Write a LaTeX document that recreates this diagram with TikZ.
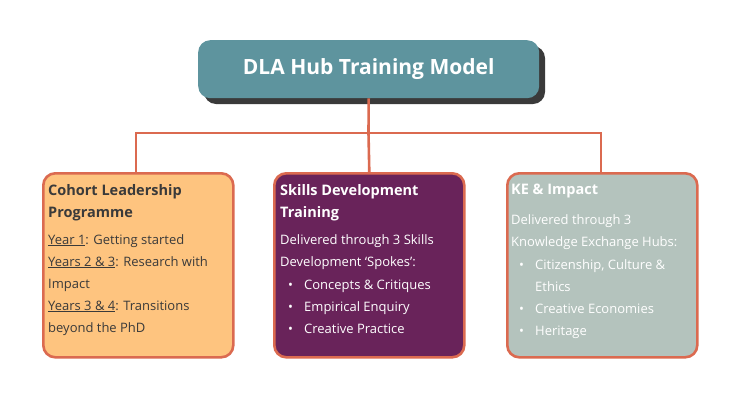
\documentclass[tikz,border=0pt]{standalone}
\usepackage{fontspec}
\setmainfont{Open Sans}
\definecolor{teal}{HTML}{5E949E}
\definecolor{edge}{HTML}{DB6A50}
\definecolor{peach}{HTML}{FEC47F}
\definecolor{plum}{HTML}{69235A}
\definecolor{sage}{HTML}{B4C3BD}
\definecolor{ink}{HTML}{3A3A3A}
\begin{document}
\begin{tikzpicture}[x=1pt,y=-1pt,
  panel/.style={draw=edge,line width=2.6pt,rounded corners=12pt,minimum width=190pt,minimum height=184pt,anchor=north west},
  txt/.style={anchor=north west,align=left,inner sep=0pt,font=\fontsize{13}{22}\selectfont},
  head/.style={anchor=north west,align=left,inner sep=0pt,font=\fontsize{14.5}{22}\selectfont\bfseries},
  link/.style={draw=edge,line width=2.6pt}]
\useasboundingbox (0,0) rectangle (737,400);
\newcommand{\bul}{\makebox[16pt][l]{\textbullet}}
\fill[ink,rounded corners=12pt] (204,46) rectangle (545,104);
\node[fill=teal,rounded corners=12pt,minimum width=341pt,minimum height=58pt,anchor=north west,text=white,font=\fontsize{21}{24}\selectfont\bfseries] (top) at (198,40) {DLA Hub Training Model};
\node[panel,fill=peach] (l) at (42,172) {};
\node[panel,fill=plum] (m) at (273,172) {};
\node[panel,fill=sage] (r) at (506,172) {};
\coordinate (j) at (368.5,133);
\draw[link] (top.south) -- (j);
\draw[link] (l.north-|136,0) |- (j) -| (r.north-|601,0);
\draw[link] (j) -- (m.north);
\node[head,text=ink] (lh) at (48,184) {Cohort Leadership\\Programme};
\node[txt,text=ink] (lt) at (48,234) {\underline{Year 1}: Getting started\\\underline{Years 2 \& 3}: Research with\\Impact\\\underline{Years 3 \& 4}: Transitions\\beyond the PhD};
\node[head,text=white] (mh) at (280,184) {Skills Development\\Training};
\node[txt,text=white] (mt) at (280,234) {Delivered through 3 Skills\\Development ‘Spokes’:\\[1pt]\hspace*{8pt}\bul Concepts \& Critiques\\\hspace*{8pt}\bul Empirical Enquiry\\\hspace*{8pt}\bul Creative Practice};
\node[head,text=white] (rh) at (511,184) {KE \& Impact};
\node[txt,text=white] (rt) at (511,214) {Delivered through 3\\Knowledge Exchange Hubs:\\[1pt]\hspace*{8pt}\bul Citizenship, Culture \&\\\hspace*{24pt}Ethics\\\hspace*{8pt}\bul Creative Economies\\\hspace*{8pt}\bul Heritage};
\end{tikzpicture}
\end{document}
